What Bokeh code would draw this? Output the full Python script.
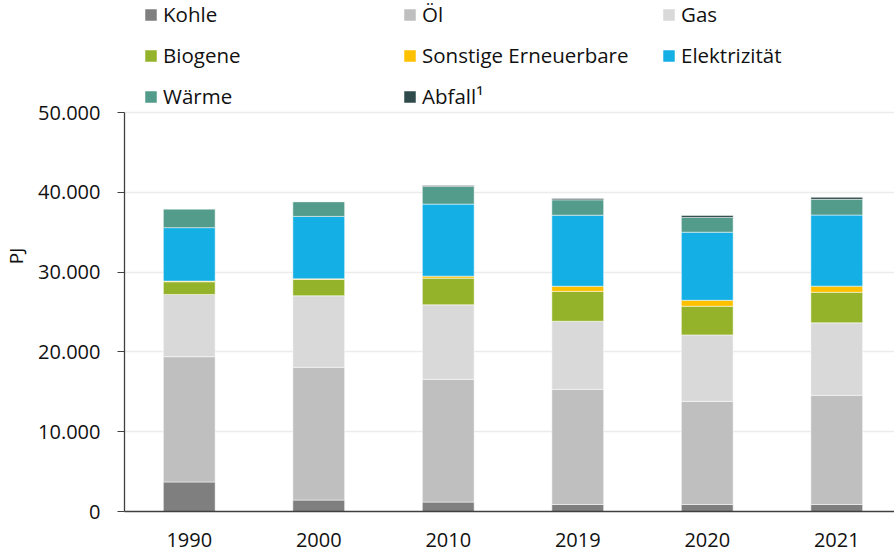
from bokeh.plotting import figure
from bokeh.models import ColumnDataSource, Legend, LegendItem, FixedTicker, Range1d, CustomJSTickFormatter
from bokeh.embed import file_html
from bokeh.resources import INLINE

years = ["1990", "2000", "2010", "2019", "2020", "2021"]
kohle = [3700, 1430, 1180, 880, 880, 880]
oel = [15700, 16640, 15380, 14430, 12920, 13680]
gas = [7800, 8960, 9340, 8530, 8330, 9080]
biogene = [1590, 2050, 3340, 3740, 3590, 3830]
sonstige = [80, 80, 250, 650, 750, 770]
elektrizitaet = [6700, 7820, 9030, 8900, 8530, 8910]
waerme = [2350, 1850, 2220, 1930, 1850, 1970]
abfall = [0, 0, 100, 170, 250, 250]

series_keys = ["kohle", "oel", "gas", "biogene", "sonstige", "elek", "waerme", "abfall"]
series_labels = ["Kohle", "Öl", "Gas", "Biogene", "Sonstige Erneuerbare", "Elektrizität", "Wärme", "Abfall¹"]
colors = ["#7f7f7f", "#bfbfbf", "#d9d9d9", "#95b32a", "#ffc000", "#13afe5", "#539b8b", "#2e4a4a"]
y_ticks = [0, 10000, 20000, 30000, 40000, 50000]

xpos = [i + 0.5 for i in range(len(years))]
src = ColumnDataSource(dict(x=xpos, kohle=kohle, oel=oel, gas=gas, biogene=biogene,
                            sonstige=sonstige, elek=elektrizitaet, waerme=waerme, abfall=abfall))

FONT = "Open Sans"
Y_MAX = 50000
# frame spans the whole height above the x axis; room above Y_MAX holds the legend
y_top = Y_MAX * 511 / 399

p = figure(width=894, height=554, output_backend="svg", toolbar_location=None,
           x_range=Range1d(0, 770 / 129.5), y_range=Range1d(0, y_top),
           min_border_left=124, min_border_top=0, min_border_right=0, min_border_bottom=43)
p.outline_line_color = None
p.background_fill_color = "white"

renderers = p.vbar_stack(series_keys, x="x", width=0.4, source=src, color=colors,
                         line_color="white", line_alpha=0.5, line_width=1)

# axes
p.xaxis.ticker = FixedTicker(ticks=xpos)
p.xaxis.major_label_overrides = {x: y for x, y in zip(xpos, years)}
p.xaxis.major_tick_line_color = None
p.xaxis.minor_tick_line_color = None
p.xaxis.major_label_standoff = 15
p.xaxis.axis_line_color = "#404040"
p.xaxis.axis_line_width = 1.3

p.yaxis.ticker = FixedTicker(ticks=y_ticks)
p.yaxis.bounds = (0, Y_MAX)
p.yaxis.formatter = CustomJSTickFormatter(code="return tick.toLocaleString('de-DE');")
p.yaxis.major_tick_in = 0
p.yaxis.major_tick_out = 7
p.yaxis.minor_tick_line_color = None
p.yaxis.major_tick_line_color = "#404040"
p.yaxis.axis_line_color = "#404040"
p.yaxis.axis_line_width = 1.3
p.yaxis.major_label_standoff = 17
p.yaxis.axis_label = "PJ"
p.yaxis.axis_label_standoff = 6
p.yaxis.axis_label_text_font = FONT
p.yaxis.axis_label_text_font_size = "19px"
p.yaxis.axis_label_text_font_style = "normal"
p.yaxis.axis_label_text_color = "#111111"

for ax in (p.xaxis, p.yaxis):
    ax.major_label_text_font = FONT
    ax.major_label_text_font_size = "20px"
    ax.major_label_text_color = "#111111"

p.xgrid.grid_line_color = None
p.ygrid.ticker = FixedTicker(ticks=y_ticks)
p.ygrid.grid_line_color = "#ececec"
p.ygrid.grid_line_width = 1.5

items = [LegendItem(label=lab, renderers=[r]) for lab, r in zip(series_labels, renderers)]
legend = Legend(items=items, location=(19, 401), orientation="horizontal", ncols=3,
                glyph_width=15, glyph_height=15, label_standoff=5, label_width=226,
                label_height=21, spacing=13, padding=0, margin=0,
                background_fill_alpha=0, border_line_alpha=0,
                label_text_font=FONT, label_text_font_size="20.5px", label_text_color="#111111")
p.add_layout(legend, "center")

open("out.html", "w").write(file_html(p, INLINE))
